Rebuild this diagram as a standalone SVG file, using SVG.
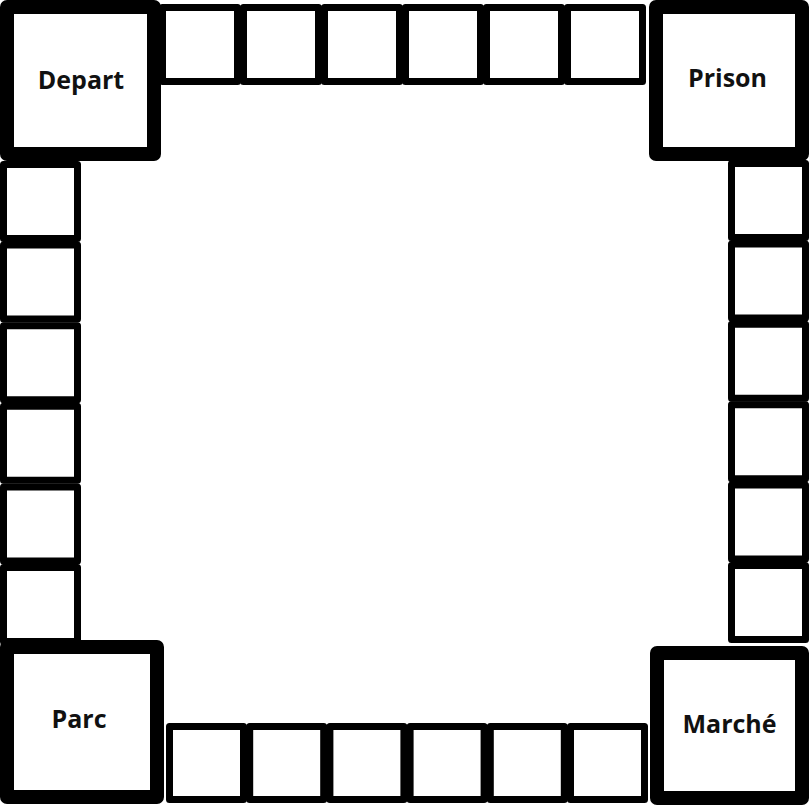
<svg xmlns="http://www.w3.org/2000/svg" width="810" height="805" viewBox="0 0 810 805">
<style>
.corner{fill:#fff;stroke:#000;stroke-width:14;stroke-linejoin:round}
.cell{fill:#fff;stroke:#000;stroke-width:7;stroke-linejoin:round}
.lbl{font-family:"Open Sans","Liberation Sans",sans-serif;font-weight:700;font-size:25px;fill:#111;text-anchor:middle}
</style>
<rect width="810" height="805" fill="#fff"/>
<g id="top-row">
<rect class="cell" x="162.5" y="7.5" width="75" height="74"/>
<rect class="cell" x="243.5" y="7.5" width="75" height="74"/>
<rect class="cell" x="324.5" y="7.5" width="75" height="74"/>
<rect class="cell" x="405.5" y="7.5" width="75" height="74"/>
<rect class="cell" x="486.5" y="7.5" width="75" height="74"/>
<rect class="cell" x="567.5" y="7.5" width="75" height="74"/>
</g>
<g id="left-column">
<rect class="cell" x="3.5" y="164.5" width="74" height="74"/>
<rect class="cell" x="3.5" y="245.1" width="74" height="74"/>
<rect class="cell" x="3.5" y="325.7" width="74" height="74"/>
<rect class="cell" x="3.5" y="406.3" width="74" height="74"/>
<rect class="cell" x="3.5" y="486.9" width="74" height="74"/>
<rect class="cell" x="3.5" y="567.5" width="74" height="74"/>
</g>
<g id="right-column">
<rect class="cell" x="731.5" y="163.5" width="74" height="74"/>
<rect class="cell" x="731.5" y="243.9" width="74" height="74"/>
<rect class="cell" x="731.5" y="324.3" width="74" height="74"/>
<rect class="cell" x="731.5" y="404.7" width="74" height="74"/>
<rect class="cell" x="731.5" y="485.1" width="74" height="74"/>
<rect class="cell" x="731.5" y="565.5" width="74" height="74"/>
</g>
<g id="bottom-row">
<rect class="cell" x="169.5" y="726.5" width="74" height="73"/>
<rect class="cell" x="249.7" y="726.5" width="74" height="73"/>
<rect class="cell" x="329.9" y="726.5" width="74" height="73"/>
<rect class="cell" x="410.1" y="726.5" width="74" height="73"/>
<rect class="cell" x="490.3" y="726.5" width="74" height="73"/>
<rect class="cell" x="570.5" y="726.5" width="74" height="73"/>
</g>
<g id="depart">
<rect class="corner" x="7" y="7" width="147" height="147"/>
<text class="lbl" x="81" y="89">Depart</text>
</g>
<g id="prison">
<rect class="corner" x="656" y="7" width="146" height="147"/>
<text class="lbl" x="727.5" y="87">Prison</text>
</g>
<g id="parc">
<rect class="corner" x="7" y="647" width="150" height="150"/>
<text class="lbl" x="79" y="728">Parc</text>
</g>
<g id="marche">
<rect class="corner" x="657" y="653" width="145" height="145"/>
<text class="lbl" x="729.5" y="733">Marché</text>
</g>
<g id="connectors"/>
</svg>
